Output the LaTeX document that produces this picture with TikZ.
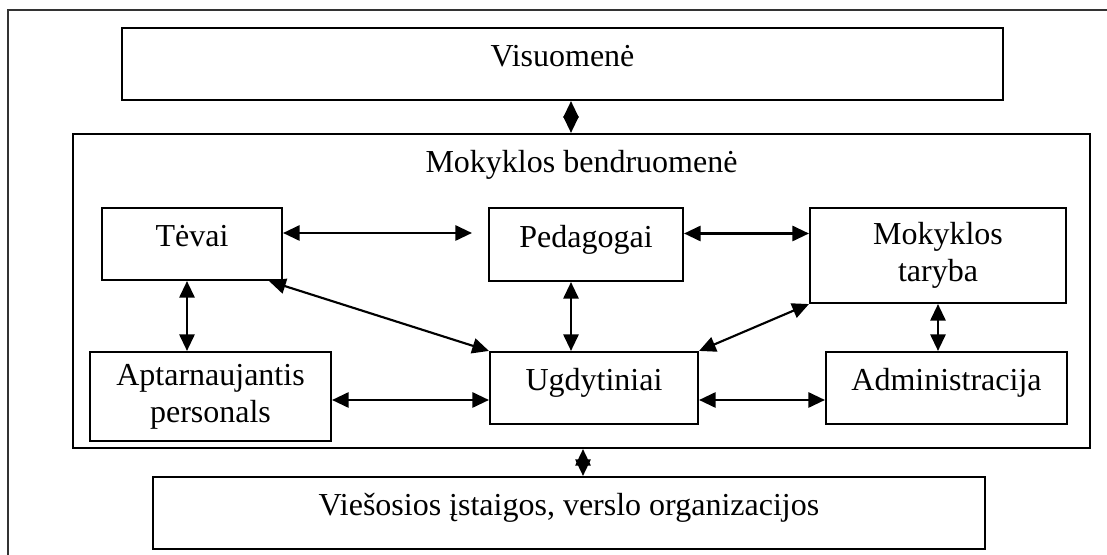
\documentclass[tikz,border=0pt]{standalone}
\usepackage{fontspec}
\setmainfont{Liberation Serif}
\usetikzlibrary{arrows.meta}

\tikzset{
  box/.style={draw, line width=1.6pt, align=center, inner sep=0pt,
    font=\fontsize{24}{27.5}\selectfont},
  oneline/.style={text height=16.5pt, text depth=12pt},
  twoway/.style={line width=1.6pt,
    {Triangle[length=12.5pt,width=11.5pt]}-{Triangle[length=12.5pt,width=11.5pt]}}
}

\begin{document}
\begin{tikzpicture}[x=0.75pt,y=-0.75pt]
        \clip (0,0) rectangle (1107,555);
        \draw[line width=1.6pt, color=black!80] (8,570) -- (8,10) -- (1120,10);

        \node[box, oneline, minimum width=660.75pt, minimum height=54pt] (visuomene) at (562.5,64) {Visuomenė};
        \node[box, minimum width=762.75pt, minimum height=235.5pt] (bendr) at (581.5,291) {};
        \node[anchor=base, font=\fontsize{24}{27.5}\selectfont] (bendrtitle) at (581.5,173) {Mokyklos bendruomenė};

        \node[box, oneline, minimum width=135pt, minimum height=54pt] (tevai) at (192,244) {Tėvai};
        \node[box, oneline, minimum width=145.5pt, minimum height=54.75pt] (ped) at (586,244.5) {Pedagogai};
        \node[box, minimum width=192pt, minimum height=71.25pt] (taryba) at (938,255.5) {Mokyklos\\taryba};
        \node[box, minimum width=180.75pt, minimum height=66.75pt] (apt) at (210.5,396.5) {Aptarnaujantis\\personals};
        \node[box, oneline, minimum width=156pt, minimum height=54pt] (ugd) at (594,388) {Ugdytiniai};
        \node[box, oneline, minimum width=180.75pt, minimum height=54pt] (adm) at (946.5,388) {Administracija};
        \node[box, oneline, minimum width=624pt, minimum height=54pt] (viesos) at (569,513) {Viešosios įstaigos, verslo organizacijos};

        \draw[twoway] (visuomene.south -| 571,0) -- (bendr.north -| 571,0);
        \draw[twoway] (bendr.south -| 583,0) -- (viesos.north -| 583,0);

        \draw[twoway, shorten >=12pt] ([yshift=8.25pt]tevai.east) -- ([yshift=8.25pt]tevai.east -| ped.west);
        \draw[twoway] ([yshift=8.25pt]ped.east) -- ([yshift=8.25pt]ped.east -| taryba.west);
        \draw[twoway] ([xshift=-3.75pt]tevai.south) -- ([xshift=-3.75pt]tevai.south |- apt.north);
        \draw[twoway] ([xshift=-11.25pt]ped.south) -- ([xshift=-11.25pt]ped.south |- ugd.north);
        \draw[twoway] (taryba.south) -- (taryba.south |- adm.north);
        \draw[twoway] ([xshift=-10.5pt]tevai.south east) -- (ugd.north west);
        \draw[twoway] (taryba.south west) -- (ugd.north east);
        \draw[twoway] ([yshift=-9pt]ugd.west -| apt.east) -- ([yshift=-9pt]ugd.west);
        \draw[twoway] ([yshift=-9pt]ugd.east) -- ([yshift=-9pt]ugd.east -| adm.west);
    \end{tikzpicture}
\end{document}
